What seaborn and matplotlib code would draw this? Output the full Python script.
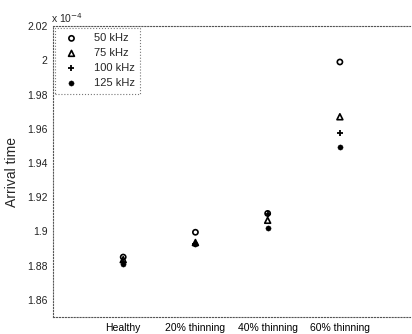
import pandas as pd
import matplotlib
matplotlib.use("Agg")
import matplotlib.pyplot as plt
import seaborn as sns

# Data (arrival time, units of 1e-4 s)
conditions = ["Healthy", "20% thinning", "40% thinning", "60% thinning"]
freqs = ["50 kHz", "75 kHz", "100 kHz", "125 kHz"]
t_50 = [1.8850, 1.8995, 1.9105, 1.9990]
t_75 = [1.8835, 1.8935, 1.9065, 1.9670]
t_100 = [1.8820, 1.8925, 1.9100, 1.9575]
t_125 = [1.8810, 1.8925, 1.9020, 1.9495]

rows = []
for f, vals in zip(freqs, [t_50, t_75, t_100, t_125]):
    for i, v in enumerate(vals):
        rows.append({"freq": f, "x": i + 1, "t": v})
df = pd.DataFrame(rows)

sns.set_style("white")
plt.rcParams["font.family"] = ["Liberation Sans", "DejaVu Sans"]

fig = plt.figure(figsize=(4.12, 3.34), dpi=100)
ax = fig.add_axes([0.129, 0.051, 0.866, 0.871])

styles = {
    "50 kHz": dict(marker="o", facecolor="none", edgecolor="black", s=14, linewidth=1.2),
    "75 kHz": dict(marker="^", facecolor="none", edgecolor="black", s=18, linewidth=1.2),
    "100 kHz": dict(marker="+", color="black", s=22, linewidth=1.3),
    "125 kHz": dict(marker="o", color="black", edgecolor="black", s=14),
}
for f in freqs:
    sub = df[df["freq"] == f]
    sns.scatterplot(data=sub, x="x", y="t", ax=ax, label=f, **styles[f])

ax.set_xlim(0.03, 4.97)
ax.set_ylim(1.85, 2.02)
ax.set_xticks([1, 2, 3, 4])
ax.set_xticklabels(conditions, fontsize=7.5)
ax.set_yticks([1.86, 1.88, 1.9, 1.92, 1.94, 1.96, 1.98, 2.0, 2.02])
ax.set_yticklabels(["1.86", "1.88", "1.9", "1.92", "1.94", "1.96", "1.98", "2", "2.02"], fontsize=7.5)
ax.tick_params(axis="both", length=2, width=0.5, direction="in", pad=4, colors="#333333")
ax.tick_params(axis="x", labelcolor="black")
ax.tick_params(axis="y", labelcolor="#222222")
ax.set_xlabel("")
ax.set_ylabel("Arrival time", fontsize=10, labelpad=6)

for sp in ax.spines.values():
    sp.set_linestyle(":")
    sp.set_linewidth(0.8)
    sp.set_color("#555555")
ax.spines["right"].set_visible(False)

ax.text(-0.005, 1.004, "x 10$^{-4}$", transform=ax.transAxes, fontsize=7.5, va="bottom", ha="left")

leg = ax.legend(loc="upper left", fontsize=8, frameon=True, borderaxespad=0.15,
                handletextpad=1.0, labelspacing=0.45, borderpad=0.5, fancybox=False,
                handlelength=2.0)
leg.get_frame().set_linestyle(":")
leg.get_frame().set_edgecolor("#555555")
leg.get_frame().set_linewidth(0.8)

plt.savefig("out.png", dpi=100)
plt.close()
